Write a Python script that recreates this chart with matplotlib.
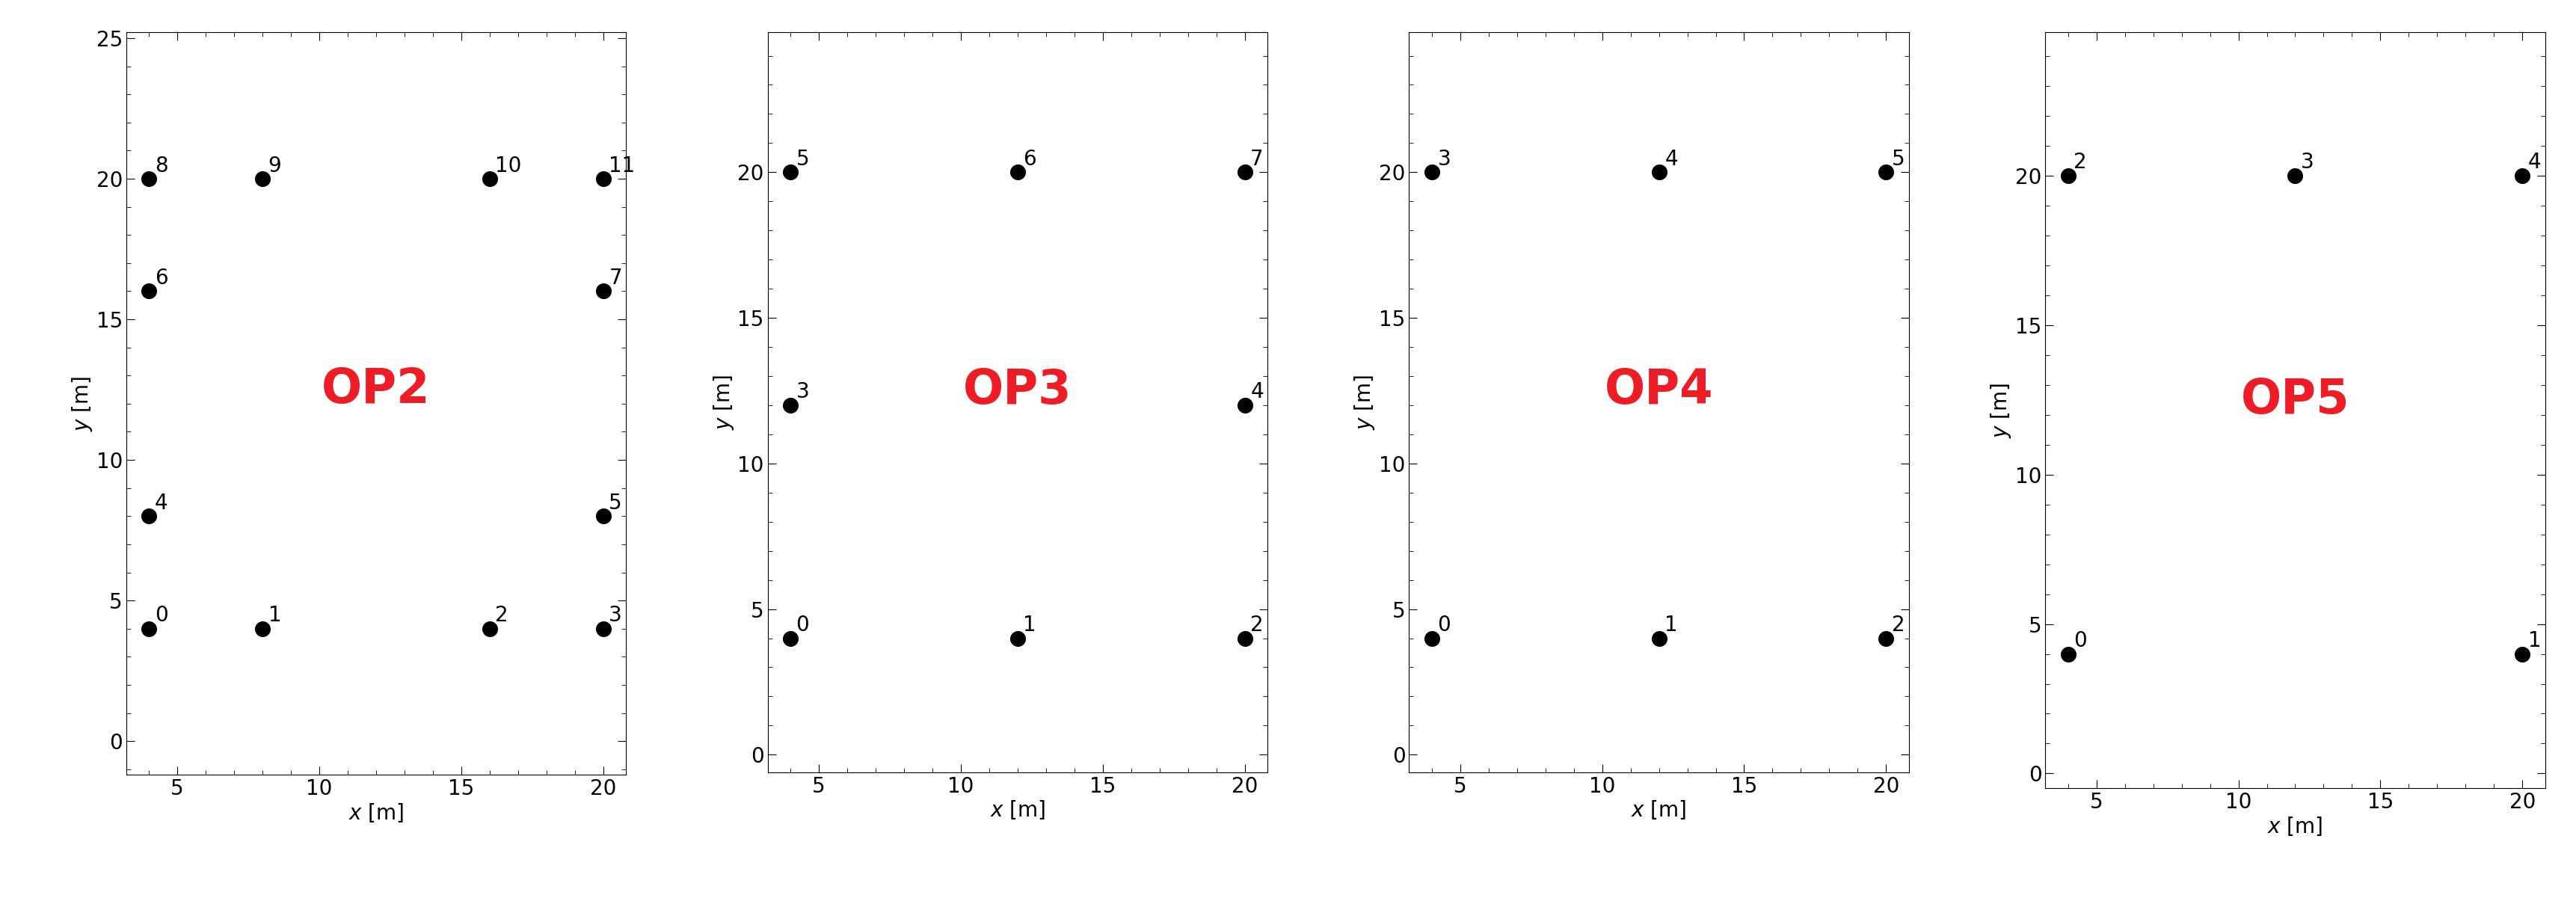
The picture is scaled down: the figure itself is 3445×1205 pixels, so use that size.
import matplotlib.pyplot as plt
from matplotlib.ticker import AutoMinorLocator

titles = ["OP2", "OP3", "OP4", "OP5"]
xs = [
    [4, 8, 16, 20, 4, 20, 4, 20, 4, 8, 16, 20],
    [4, 12, 20, 4, 20, 4, 12, 20],
    [4, 12, 20, 4, 12, 20],
    [4, 20, 4, 12, 20],
]
ys = [
    [4, 4, 4, 4, 8, 8, 16, 16, 20, 20, 20, 20],
    [4, 4, 4, 12, 12, 20, 20, 20],
    [4, 4, 4, 20, 20, 20],
    [4, 4, 20, 20, 20],
]
ylims = [(-1.2, 25.2), (-0.6, 24.8), (-0.6, 24.8), (-0.5, 24.8)]
lefts = [0.049, 0.298, 0.547, 0.794]
bottoms = [0.14, 0.143, 0.143, 0.125]

fig = plt.figure(figsize=(34.45, 12.05), dpi=100)
for i in range(4):
    ax = fig.add_axes([lefts[i], bottoms[i], 0.194, 0.964 - bottoms[i]])
    ax.scatter(xs[i], ys[i], s=200, color="black", zorder=3)
    for k, (x, y) in enumerate(zip(xs[i], ys[i])):
        ax.text(x + 0.2, y + 0.25, str(k), fontsize=20)
    ax.text(12, 12.5, titles[i], color="#ee1c25", fontsize=46,
            fontweight="bold", ha="center", va="center")
    ax.set_xlim(3.2, 20.8)
    ax.set_ylim(*ylims[i])
    ax.set_xticks([5, 10, 15, 20])
    ax.set_yticks([0, 5, 10, 15, 20, 25] if i == 0 else [0, 5, 10, 15, 20])
    ax.xaxis.set_minor_locator(AutoMinorLocator(5))
    ax.yaxis.set_minor_locator(AutoMinorLocator(5))
    ax.tick_params(which="both", direction="in", top=True, right=True, labelsize=20)
    ax.tick_params(which="major", length=8)
    ax.tick_params(which="minor", length=4)
    ax.set_xlabel("$x$ [m]", fontsize=20, labelpad=2)
    ax.set_ylabel("$y$ [m]", fontsize=20, labelpad=2)

fig.savefig("out.png")
